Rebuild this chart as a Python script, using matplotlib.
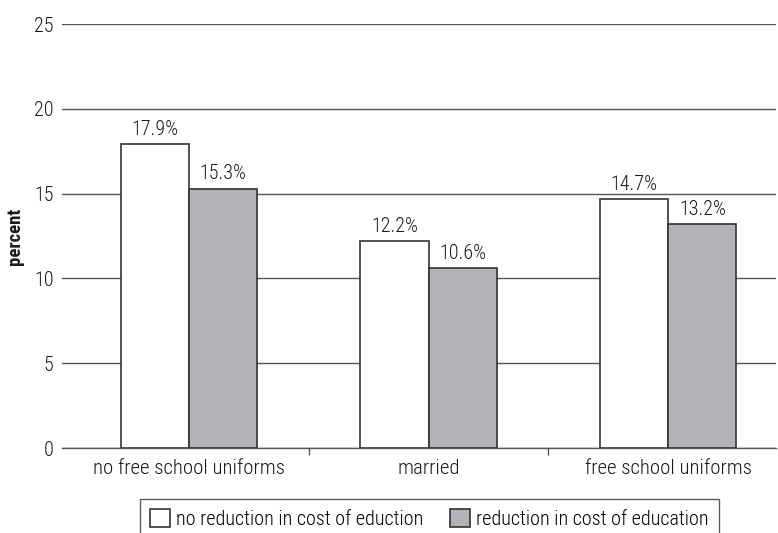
import numpy as np
import matplotlib
matplotlib.use("Agg")
import matplotlib.pyplot as plt
import matplotlib.font_manager as fm

# datos
categories = ["no free school uniforms", "married", "free school uniforms"]
no_reduction = [17.9, 12.2, 14.7]
reduction = [15.3, 10.6, 13.2]
series_names = ["no reduction in cost of eduction", "reduction in cost of education"]
y_ticks = [0, 5, 10, 15, 20, 25]

# buscamos una fuente estrecha
names = {f.name for f in fm.fontManager.ttflist}
family = None
stretch = "normal"
for n in ["Roboto Condensed", "Liberation Sans Narrow", "Open Sans Condensed", "Arial Narrow"]:
    if n in names:
        family = n
        break
if family is None:
    for f in fm.fontManager.ttflist:
        if f.name in ("Roboto", "DejaVu Sans", "Open Sans", "Noto Sans") and "condensed" in str(f.stretch):
            family = f.name
            stretch = "condensed"
            break
if family is None:
    family = "Roboto"

plt.rcParams['font.family'] = [family, 'DejaVu Sans']
plt.rcParams['font.stretch'] = stretch
plt.rcParams['font.weight'] = 'light'
fs = 14.5

fig = plt.figure(figsize=(7.78, 5.33), dpi=100)
ax = fig.add_axes([62 / 778, 1 - 448 / 533, 714 / 778, 424 / 533])

x = np.arange(len(categories))
w = 0.285
b1 = ax.bar(x - w / 2, no_reduction, w, color="white", edgecolor="#333333", linewidth=1.2,
            label=series_names[0], zorder=3)
b2 = ax.bar(x + w / 2, reduction, w, color="#b1b3b6", edgecolor="#333333", linewidth=1.2,
            label=series_names[1], zorder=3)

for bars, vals in [(b1, no_reduction), (b2, reduction)]:
    for r, v in zip(bars, vals):
        ax.text(r.get_x() + r.get_width() / 2, v + 0.3, f"{v}%", ha="center", va="bottom",
                fontsize=fs, color="#1a1a1a")

ax.set_xlim(-0.53, 2.45)
ax.set_ylim(0, 25)
ax.set_yticks(y_ticks)
ax.yaxis.grid(True, color="#555555", linewidth=1.0, zorder=0)
ax.set_axisbelow(True)
ax.tick_params(axis="y", length=0, pad=6, labelsize=fs, labelcolor="#1a1a1a")

ax.set_xticks(x)
ax.set_xticklabels(categories)
ax.tick_params(axis="x", which="major", length=0, pad=8, labelsize=15, labelcolor="#1a1a1a")
ax.set_xticks([0.5, 1.5], minor=True)
ax.tick_params(axis="x", which="minor", length=5, width=1, color="#555555", direction="out")

for s in ["top", "right", "left"]:
    ax.spines[s].set_visible(False)
ax.spines["bottom"].set_color("#555555")
ax.spines["bottom"].set_linewidth(1.0)

ax.set_ylabel("percent", fontsize=fs - 1, fontweight="bold", color="#1a1a1a")
ax.yaxis.set_label_coords(-0.053, 0.5)

leg = fig.legend(loc="upper center", bbox_to_anchor=(0.552, 1 - 499 / 533), ncol=2,
                 fontsize=fs, frameon=True, fancybox=False, edgecolor="#333333",
                 handlelength=1.0, handleheight=1.0, handletextpad=0.3, columnspacing=1.3,
                 borderpad=0.5, borderaxespad=0)
leg.get_frame().set_linewidth(1.0)

fig.savefig("out.png", dpi=100)
